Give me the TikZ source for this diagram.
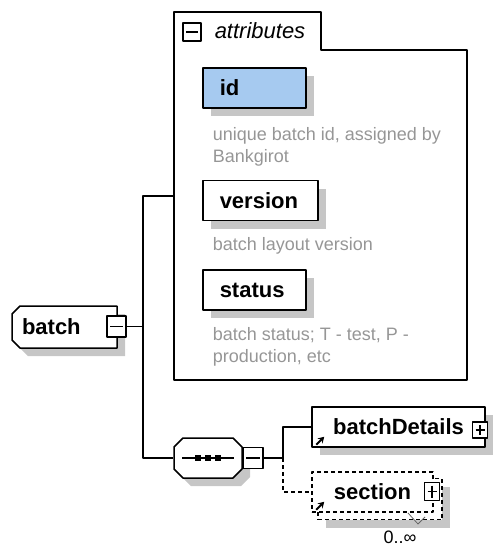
\documentclass[tikz,border=0pt]{standalone}
\usepackage{fontspec}
\setmainfont{Liberation Sans}
\usetikzlibrary{shadows,arrows.meta}
\definecolor{idblue}{RGB}{166,202,240}
\definecolor{descgray}{RGB}{150,150,150}
\definecolor{shadowgray}{RGB}{198,198,198}

\begin{document}
\begin{tikzpicture}[x=1pt, y=-1pt, line join = round, line width=1.5pt,
  box/.style={draw, fill=white, inner sep=0pt, font=\fontsize{22}{26}\selectfont\bfseries},
  dropshade/.style={drop shadow={shadow xshift=8pt, shadow yshift=-8pt, fill=shadowgray, opacity=1}},
  attrbox/.style={box, dropshade, anchor=west, inner xsep=17pt, minimum height=40pt, text width=69pt, align=left},
  info/.style={anchor=north west, inner sep=0pt, text=descgray, align=left, font=\fontsize{18}{22}\selectfont},
  toggle/.style={draw, fill=white, inner sep=0pt, line width=1.4pt},
  minus/.style={toggle, path picture={\draw ([xshift=3pt]path picture bounding box.west) -- ([xshift=-3pt]path picture bounding box.east);}},
  plus/.style={toggle, path picture={
    \draw ([xshift=3pt]path picture bounding box.west) -- ([xshift=-3pt]path picture bounding box.east);
    \draw ([yshift=-3pt]path picture bounding box.north) -- ([yshift=3pt]path picture bounding box.south);}},
  optional/.style={dash pattern=on 4pt off 3pt}]
\useasboundingbox (0,0) rectangle (497,548);

\coordinate [] (fork) at (143,326.5);
\coordinate [] (attrin) at (174,196);
\coordinate [] (split) at (283,458);

% element and sequence outlines
\foreach \dx/\col/\edge in {8/shadowgray/none,0/white/black}
    \filldraw[fill=\col, draw=\edge, shift={(\dx,\dx)}]
      (20,306) -- (117,306) -- (117,348) -- (20,348) -- (12,340) -- (12,314) -- cycle
      (183,438) -- (233,438) -- (242,447) -- (242,469) -- (233,478) -- (183,478) -- (174,469) -- (174,447) -- cycle;

\node[inner sep=0pt, minimum width=105pt, minimum height=42pt, text width=85pt, align=left,
  font=\fontsize{22}{26}\selectfont\bfseries] (batch) at (64.5,327) {batch};
\node[minus, minimum width=19pt, minimum height=21pt] (batchtog) at (116.5,326.5) {};

\draw (174,12) -- (321,12) -- (321,50) -- (467,50) -- (467,380) -- (174,380) -- cycle;
\node[minus, minimum size=18pt] (attrtog) at (192,32) {};
\node[anchor=base west, inner sep=0pt, font=\fontsize{22}{26}\selectfont\itshape] (attrlabel) at (214,39) {attributes};

\node[attrbox, fill=idblue] (id) at (202,88) {id};
\node[attrbox, text width=81pt] (version) at (202,200.5) {version};
\node[attrbox] (status) at (202,290) {status};
\node[info] (iddesc) at (212,127) {unique batch id, assigned by\\Bankgirot};
\node[info] (versiondesc) at (212,237) {batch layout version};
\node[info] (statusdesc) at (212,327) {batch status; T - test, P -\\production, etc};

\node[inner sep=0pt, minimum width=68pt, minimum height=40pt] (seq) at (208,458) {};
\draw ([xshift=9pt]seq.west) -- ([xshift=-9pt]seq.east);
\foreach \dx in {-10,0,10}
    \fill (seq.center) ++(\dx,0) +(-3,-3) rectangle +(3,3);
\node[minus, minimum width=20pt, minimum height=21pt] (seqtog) at (253,458) {};

\node[box, minimum width=173pt, minimum height=40pt, dropshade] (details) at (398.5,427) {batchDetails};
\node[plus, minimum width=15pt, minimum height=16pt] (detailstog) at (480,430) {};

\node[box, optional, minimum width=124pt, minimum height=41pt, dropshade] (sectback) at (380,499) {};
\node[box, optional, minimum width=121pt, minimum height=40pt] (sect) at (372.5,492) {section};
\node[plus, minimum width=15pt, minimum height=18pt] (secttog) at (432,491.5) {};
\draw[line width=0.8pt, black!60] (408,513) -- (418,524) -- (425,517);
\node[inner sep=0pt, font=\fontsize{18}{22}\selectfont] (occurs) at (400,537) {0..∞};

\foreach \n in {details,sect}
    \draw[line width=2pt, -{Stealth[length=6pt,width=7pt]}] ([shift={(5,-3)}]\n.south west) -- ++(8,-8);

\draw (batchtog.east) -- (fork);
\draw (attrin) -| (fork) |- (seq.west);
\draw (seqtog.east) -- (split) |- (details.west);
\draw[optional] (split) |- (sect.west);
\end{tikzpicture}
\end{document}
